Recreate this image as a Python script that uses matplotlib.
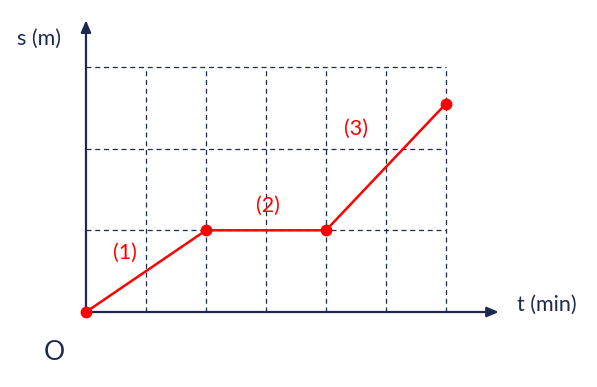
import matplotlib.pyplot as plt
import numpy as np

# Data
t_vals = [0, 2, 4, 6]
s_vals = [0, 1, 1, 2.55]
seg_labels = ["(1)", "(2)", "(3)"]
grid_t = [1, 2, 3, 4, 5, 6]
grid_s = [1, 2, 3]

navy = '#1c2a4f'
red = '#ff0000'

plt.rcParams['font.family'] = ['Lato', 'DejaVu Sans']

fig = plt.figure(figsize=(5.97, 3.87), dpi=100)
ax = fig.add_axes([0, 0, 1, 1])
ax.set_xlim(-1.433, 8.517)
ax.set_ylim(-0.918, 3.819)
ax.axis('off')

# dashed grid
for t in grid_t:
    ax.plot([t, t], [0, max(grid_s)], color=navy, lw=0.9, ls=(0, (4, 3)), zorder=1)
for s in grid_s:
    ax.plot([0, max(grid_t)], [s, s], color=navy, lw=0.9, ls=(0, (4, 3)), zorder=1)

# axes with arrows
ax.annotate('', xy=(6.88, 0), xytext=(0, 0),
            arrowprops=dict(arrowstyle='-|>,head_length=0.7,head_width=0.3', color=navy, lw=1.6,
                            shrinkA=0, shrinkB=0), zorder=2)
ax.annotate('', xy=(0, 3.57), xytext=(0, 0),
            arrowprops=dict(arrowstyle='-|>,head_length=0.7,head_width=0.3', color=navy, lw=1.6,
                            shrinkA=0, shrinkB=0), zorder=2)

ax.text(-0.78, 3.34, 's (m)', color=navy, fontsize=15.5, ha='center', va='center')
ax.text(7.68, 0.09, 't (min)', color=navy, fontsize=15.5, ha='center', va='center')
ax.text(-0.52, -0.5, 'O', color=navy, fontsize=19, ha='center', va='center')

# motion graph
ax.plot(t_vals, s_vals, color=red, lw=1.8, marker='o', markersize=7.5, zorder=3, clip_on=False)

# segment labels
for i, lab in enumerate(seg_labels):
    tm = (t_vals[i] + t_vals[i + 1]) / 2
    sm = (s_vals[i] + s_vals[i + 1]) / 2
    if i == 0:
        pos = (tm - 0.35, sm + 0.22)
    elif i == 1:
        pos = (tm + 0.03, sm + 0.3)
    else:
        pos = (tm - 0.5, sm + 0.47)
    ax.text(pos[0], pos[1], lab, color=red, fontsize=15.5, ha='center', va='center')

fig.savefig('out.png', dpi=100)
